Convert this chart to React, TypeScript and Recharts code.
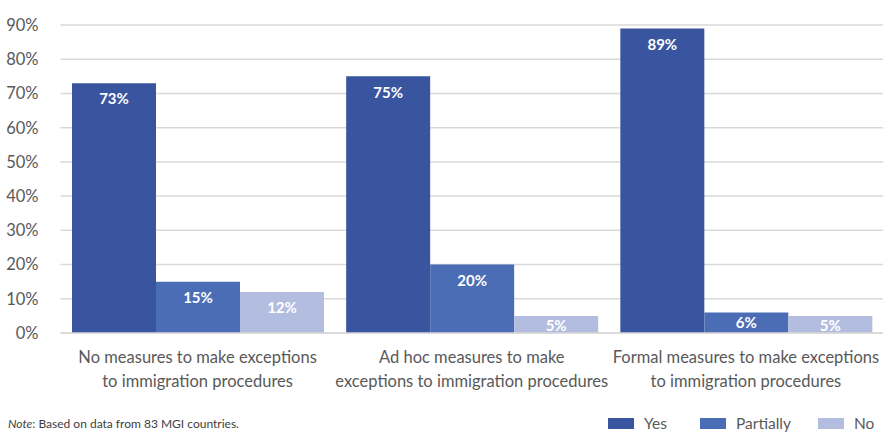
import React from 'react';
import { BarChart, Bar, XAxis, YAxis, CartesianGrid, LabelList, Legend } from 'recharts';

const categories = [
  'No measures to make exceptions\nto immigration procedures',
  'Ad hoc measures to make\nexceptions to immigration procedures',
  'Formal measures to make exceptions\nto immigration procedures',
];
const yesValues = [73, 75, 89];
const partiallyValues = [15, 20, 6];
const noValues = [12, 5, 5];
const yTicks = [0, 10, 20, 30, 40, 50, 60, 70, 80, 90];

const seriesMeta = [
  { key: 'yes', name: 'Yes', color: '#3A559F' },
  { key: 'partially', name: 'Partially', color: '#4B6DB5' },
  { key: 'no', name: 'No', color: '#B3BDE0' },
];

const data = categories.map((c, i) => ({
  category: c,
  yes: yesValues[i],
  partially: partiallyValues[i],
  no: noValues[i],
}));

const FONT = 'Lato, "Open Sans", sans-serif';

const CategoryTick = (props: any) => {
  const { x, y, payload } = props;
  const lines = String(payload.value).split('\n');
  return (
    <g transform={`translate(${x},${y})`}>
      {lines.map((line, i) => (
        <text key={i} x={0} y={i * 24} dy={22} textAnchor="middle" fill="#595959" fontSize={16.5} fontFamily={FONT}>
          {line}
        </text>
      ))}
    </g>
  );
};

// labels sit near the top of the bar; on short bars they get pulled up and clipped
let clipCounter = 0;
const BarLabel = (props: any) => {
  const { x, y, width, height, value } = props;
  const id = `lbl-clip-${clipCounter++}`;
  const offset = Math.min(10, Math.max(4, height - 16));
  return (
    <g>
      <defs>
        <clipPath id={id}>
          <rect x={x} y={y} width={width} height={height} />
        </clipPath>
      </defs>
      <text
        x={x + width / 2}
        y={y + offset + 6}
        dy="0.35em"
        textAnchor="middle"
        fill="#ffffff"
        fontWeight={700}
        fontSize={15}
        fontFamily={FONT}
        clipPath={`url(#${id})`}
      >
        {`${value}%`}
      </text>
    </g>
  );
};

const LegendContent = () => (
  <div style={{ position: 'relative', width: 885, height: 24, fontFamily: FONT }}>
    <div style={{ position: 'absolute', left: 8, top: 8, fontSize: 12, color: '#404040' }}>
      <i>Note</i>: Based on data from 83 MGI countries.
    </div>
    {seriesMeta.map((s, i) => (
      <div
        key={s.key}
        style={{ position: 'absolute', left: [608, 700, 818][i], top: 6, display: 'flex', alignItems: 'center', fontSize: 15.5, color: '#595959' }}
      >
        <span style={{ display: 'inline-block', width: 26, height: 11, background: s.color, marginRight: 10 }} />
        {s.name}
      </div>
    ))}
  </div>
);

export default function App() {
  return (
    <div style={{ position: 'absolute', left: 0, top: 0, width: 885, height: 432, background: '#fff' }}>
      <BarChart
        width={885}
        height={432}
        data={data}
        margin={{ top: 25, right: 2, left: 0, bottom: 0 }}
        barCategoryGap={11.5}
        barGap={0}
      >
        <CartesianGrid vertical={false} stroke="#D9D9D9" strokeWidth={1.5} />
        <XAxis
          dataKey="category"
          tick={<CategoryTick />}
          tickLine={false}
          axisLine={{ stroke: '#D9D9D9', strokeWidth: 1.5 }}
          interval={0}
          height={75}
        />
        <YAxis
          domain={[0, 90]}
          ticks={yTicks}
          tickFormatter={(v) => `${v}%`}
          tick={{ fill: '#595959', fontSize: 16.5, fontFamily: FONT }}
          tickLine={false}
          axisLine={false}
          tickMargin={16}
          width={60.5}
        />
        <Legend verticalAlign="bottom" content={<LegendContent />} wrapperStyle={{ left: 0, bottom: 0, width: 885, height: 24 }} />
        {seriesMeta.map((s) => (
          <Bar key={s.key} dataKey={s.key} name={s.name} fill={s.color} isAnimationActive={false}>
            <LabelList dataKey={s.key} content={<BarLabel />} />
          </Bar>
        ))}
      </BarChart>
    </div>
  );
}
